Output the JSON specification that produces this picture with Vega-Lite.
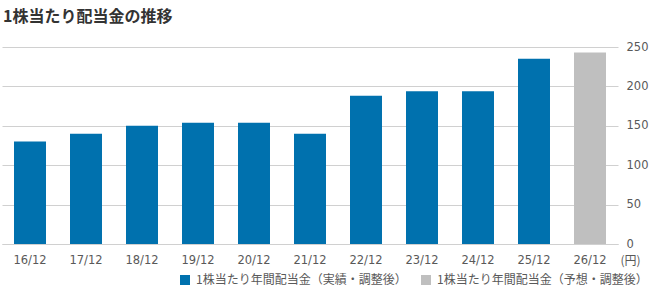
{
  "$schema": "https://vega.github.io/schema/vega-lite/v6.json",
  "autosize": "none",
  "width": 616,
  "height": 197,
  "padding": {"left": 2, "top": 47, "right": 33, "bottom": 46},
  "background": "white",
  "title": {
    "text": "1株当たり配当金の推移",
    "anchor": "start",
    "frame": "group",
    "font": "Noto Sans CJK JP",
    "fontSize": 16,
    "fontWeight": "bold",
    "color": "#333333",
    "offset": 16,
    "dx": 1
  },
  "config": {
    "view": {"stroke": null},
    "font": "Noto Sans CJK JP"
  },
  "data": {
    "values": [
      {"year": "16/12", "value": 130, "type": "1株当たり年間配当金（実績・調整後）"},
      {"year": "17/12", "value": 140, "type": "1株当たり年間配当金（実績・調整後）"},
      {"year": "18/12", "value": 150, "type": "1株当たり年間配当金（実績・調整後）"},
      {"year": "19/12", "value": 154, "type": "1株当たり年間配当金（実績・調整後）"},
      {"year": "20/12", "value": 154, "type": "1株当たり年間配当金（実績・調整後）"},
      {"year": "21/12", "value": 140, "type": "1株当たり年間配当金（実績・調整後）"},
      {"year": "22/12", "value": 188, "type": "1株当たり年間配当金（実績・調整後）"},
      {"year": "23/12", "value": 194, "type": "1株当たり年間配当金（実績・調整後）"},
      {"year": "24/12", "value": 194, "type": "1株当たり年間配当金（実績・調整後）"},
      {"year": "25/12", "value": 235, "type": "1株当たり年間配当金（実績・調整後）"},
      {"year": "26/12", "value": 243, "type": "1株当たり年間配当金（予想・調整後）"}
    ]
  },
  "mark": {"type": "bar", "width": {"band": 0.5714}},
  "encoding": {
    "x": {
      "field": "year",
      "type": "ordinal",
      "sort": null,
      "scale": {"paddingInner": 0, "paddingOuter": 0},
      "axis": {
        "title": null,
        "labelAngle": 0,
        "labelFont": "DejaVu Sans",
        "labelFontSize": 11.5,
        "labelColor": "#595959",
        "labelPadding": 10,
        "ticks": false,
        "domain": true,
        "domainColor": "#d0d0d0",
        "grid": false
      }
    },
    "y": {
      "field": "value",
      "type": "quantitative",
      "scale": {"domain": [0, 250], "nice": false},
      "axis": {
        "orient": "right",
        "values": [0, 50, 100, 150, 200, 250],
        "title": "(円)",
        "titleAngle": 0,
        "titleX": 12,
        "titleY": 213,
        "titleAlign": "center",
        "titleBaseline": "middle",
        "titleFontSize": 12,
        "titleFontWeight": "normal",
        "titleColor": "#595959",
        "labelFont": "DejaVu Sans",
        "labelFontSize": 11.5,
        "labelColor": "#595959",
        "labelPadding": 8,
        "tickSize": 0,
        "domain": false,
        "grid": true,
        "gridColor": "#d0d0d0",
        "gridWidth": 1
      }
    },
    "color": {
      "field": "type",
      "type": "nominal",
      "scale": {
        "domain": ["1株当たり年間配当金（実績・調整後）", "1株当たり年間配当金（予想・調整後）"],
        "range": ["#0071ae", "#bfbfbf"]
      },
      "legend": {
        "title": null,
        "orient": "none",
        "direction": "horizontal",
        "legendX": 177,
        "legendY": 227,
        "symbolType": "square",
        "symbolSize": 100,
        "symbolStrokeWidth": 0,
        "labelFontSize": 12,
        "labelLimit": 400,
        "labelColor": "#595959",
        "labelOffset": 5,
        "columnPadding": 13
      }
    }
  }
}
